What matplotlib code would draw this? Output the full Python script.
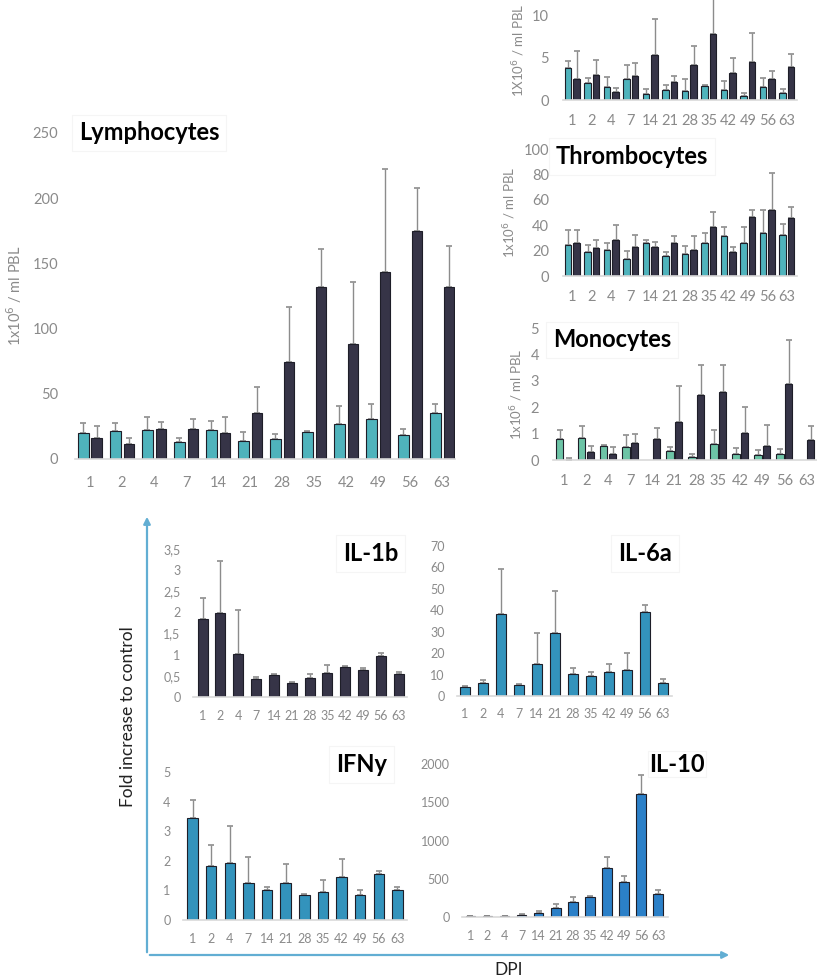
import matplotlib
matplotlib.use('Agg')
import matplotlib.pyplot as plt
import numpy as np
from matplotlib.patches import FancyArrowPatch

plt.rcParams['font.family'] = ['Lato', 'DejaVu Sans']

days = ['1', '2', '4', '7', '14', '21', '28', '35', '42', '49', '56', '63']

# blood cell counts, control (teal) vs infected (dark), mean and SD
lymph_ctrl = [20, 21.8, 22, 13, 22, 14, 15, 21, 27, 30.5, 18.7, 35.6]
lymph_ctrl_sd = [7.4, 5.6, 10, 3, 7.5, 6.5, 4, 0.5, 14, 11.5, 4.6, 6.4]
lymph_inf = [16, 11.5, 23.3, 23.3, 20, 35.4, 74.4, 132, 88.5, 143.3, 174.6, 132]
lymph_inf_sd = [9.4, 4.5, 4.7, 7.7, 12.3, 19.6, 42.3, 28.8, 46.9, 79.2, 33.4, 31]

top_ctrl = [3.8, 2.0, 1.5, 2.5, 0.7, 1.2, 1.04, 1.65, 1.2, 0.43, 1.6, 0.78]
top_ctrl_sd = [0.85, 0.6, 1.2, 1.7, 0.56, 0.6, 1.46, 0.15, 1.0, 0.44, 1.0, 0.52]
top_inf = [2.48, 2.96, 0.96, 2.9, 5.3, 2.1, 4.17, 7.83, 3.17, 4.5, 2.48, 3.87]
top_inf_sd = [3.3, 1.82, 0.44, 1.53, 4.27, 0.8, 2.26, 4.67, 1.83, 3.46, 1.0, 1.63]

thromb_ctrl = [24.2, 18.7, 20.3, 13.7, 26, 16, 17.4, 26.3, 31.8, 26, 33.7, 32.1]
thromb_ctrl_sd = [12.4, 5.5, 6.0, 5.8, 2.2, 2.7, 6.0, 7.9, 6.6, 12.4, 18.1, 8.7]
thromb_inf = [25.8, 22.1, 28.7, 22.6, 23.2, 25.8, 20.3, 38.2, 19, 46.6, 51.6, 46]
thromb_inf_sd = [10.8, 6.3, 11.8, 9.8, 3.4, 6.0, 11.0, 12.3, 4.2, 5.2, 29.7, 8.7]

mono_ctrl = [0.78, 0.85, 0.54, 0.49, np.nan, 0.34, 0.11, 0.6, 0.24, 0.19, 0.22, np.nan]
mono_ctrl_sd = [0.36, 0.44, 0.02, 0.47, np.nan, 0.14, 0.12, 0.54, 0.22, 0.19, 0.18, np.nan]
mono_inf = [0, 0.32, 0.22, 0.66, 0.8, 1.44, 2.46, 2.56, 1.01, 0.54, 2.87, 0.76]
mono_inf_sd = [0.08, 0.2, 0.26, 0.31, 0.4, 1.38, 1.14, 1.04, 0.99, 0.79, 1.69, 0.51]

# cytokine expression, fold increase to control
il1b = [1.84, 1.98, 1.02, 0.43, 0.52, 0.33, 0.44, 0.57, 0.7, 0.64, 0.97, 0.54]
il1b_sd = [0.51, 1.23, 1.03, 0.05, 0.03, 0.03, 0.1, 0.18, 0.04, 0.04, 0.07, 0.04]
il6a = [4.2, 6.2, 38.1, 5.3, 15.1, 29.2, 10.1, 9.2, 11.2, 12.0, 39.2, 6.1]
il6a_sd = [0.5, 1.4, 21.2, 0.1, 14.1, 19.9, 3.0, 2.0, 3.9, 7.9, 3.1, 2.0]
ifny = [3.46, 1.84, 1.93, 1.24, 1.03, 1.24, 0.83, 0.94, 1.45, 0.83, 1.54, 1.03]
ifny_sd = [0.6, 0.71, 1.23, 0.89, 0.09, 0.66, 0.05, 0.41, 0.61, 0.19, 0.1, 0.08]
il10 = [9, 9, 13, 22, 52, 122, 201, 258, 638, 454, 1611, 301]
il10_sd = [0, 0, 0, 13, 27, 53, 61, 22, 148, 87, 249, 48]

W, H = 817, 980
TEAL = '#4fb3bc'
DARK = '#363447'
GREEN = '#6dc4a6'
GREY = '#8a8a8a'

fig = plt.figure(figsize=(W / 100, H / 100), dpi=100)


def axes_px(x0, y0, x1, y1):
    # y0 = top pixel, y1 = pixel of the zero line
    ax = fig.add_axes([x0 / W, 1 - y1 / H, (x1 - x0) / W, (y1 - y0) / H])
    for s in ['top', 'right', 'left']:
        ax.spines[s].set_visible(False)
    ax.spines['bottom'].set_color('#d9d9d9')
    ax.spines['bottom'].set_linewidth(1.2)
    ax.tick_params(length=0, colors=GREY)
    return ax


def bars(ax, x, vals, sd, color, width):
    vals = np.array(vals, dtype=float)
    sd = np.array(sd, dtype=float)
    ok = np.isfinite(vals)
    ax.bar(x[ok], vals[ok], width, color=color, edgecolor='#1e1e28', linewidth=0.8, zorder=2)
    ax.errorbar(x[ok], vals[ok], yerr=[np.zeros(ok.sum()), sd[ok]], fmt='none',
                ecolor='#8c8c8c', elinewidth=1, capsize=2.2, capthick=1.2, zorder=1.5)


def title(ax, text, x, y, ha='left', pad=5):
    ax.text(x, y, text, transform=ax.transAxes, ha=ha, va='center', fontsize=17,
            fontweight='bold', color='black', zorder=5, clip_on=False,
            bbox=dict(facecolor='white', edgecolor='#f5f5f5', linewidth=0.8, pad=pad))


x = np.arange(12)

# Lymphocytes
ax = axes_px(75, 133, 455, 459)
bars(ax, x - 0.21, lymph_ctrl, lymph_ctrl_sd, TEAL, 0.33)
bars(ax, x + 0.21, lymph_inf, lymph_inf_sd, DARK, 0.33)
ax.set_xlim(-0.47, 11.4)
ax.set_ylim(0, 250)
ax.set_yticks([0, 50, 100, 150, 200, 250])
ax.set_xticks(x)
ax.set_xticklabels(days)
ax.tick_params(axis='both', labelsize=10.5, pad=12)
ax.set_ylabel(r'1x10$^{6}$ / ml PBL', fontsize=10.5, color=GREY, labelpad=6)
title(ax, 'Lymphocytes', 0.01, 1.0)

# upper right panel (cut at the top)
ax = axes_px(563, 0, 797, 100)
bars(ax, x - 0.22, top_ctrl, top_ctrl_sd, TEAL, 0.34)
bars(ax, x + 0.22, top_inf, top_inf_sd, DARK, 0.34)
ax.set_xlim(-0.48, 11.52)
ax.set_ylim(0, 11.86)
ax.set_yticks([0, 5, 10])
ax.set_xticks(x)
ax.set_xticklabels(days)
ax.tick_params(axis='both', labelsize=10.5, pad=10)
ax.set_ylabel(r'1X10$^{6}$ / ml PBL', fontsize=9.5, color=GREY, labelpad=4)

# Thrombocytes
ax = axes_px(563, 149, 797, 276)
bars(ax, x - 0.22, thromb_ctrl, thromb_ctrl_sd, TEAL, 0.34)
bars(ax, x + 0.22, thromb_inf, thromb_inf_sd, DARK, 0.34)
ax.set_xlim(-0.48, 11.52)
ax.set_ylim(0, 100)
ax.set_yticks([0, 20, 40, 60, 80, 100])
ax.set_xticks(x)
ax.set_xticklabels(days)
ax.tick_params(axis='both', labelsize=10.5, pad=10)
ax.set_ylabel(r'1x10$^{6}$ / ml PBL', fontsize=9.5, color=GREY, labelpad=4)
title(ax, 'Thrombocytes', -0.03, 0.94)

# Monocytes
ax = axes_px(553, 328, 817, 460)
bars(ax, x - 0.2, mono_ctrl, mono_ctrl_sd, GREEN, 0.33)
bars(ax, x + 0.2, mono_inf, mono_inf_sd, DARK, 0.33)
ax.set_xlim(-0.51, 11.48)
ax.set_ylim(0, 5)
ax.set_yticks([0, 1, 2, 3, 4, 5])
ax.set_xticks(x)
ax.set_xticklabels(days)
ax.tick_params(axis='both', labelsize=10.5, pad=10)
ax.set_ylabel(r'1x10$^{6}$ / ml PBL', fontsize=9.5, color=GREY, labelpad=4)
title(ax, 'Monocytes', 0.0, 0.91)


def cyto(box, vals, sd, color, ymax, yticks, ylabels, xlim, name, tx, ty, pad=5):
    ax = axes_px(*box)
    bars(ax, x, vals, sd, color, 0.56)
    ax.set_xlim(*xlim)
    ax.set_ylim(0, ymax)
    ax.set_yticks(yticks)
    ax.set_yticklabels(ylabels)
    ax.set_xticks(x)
    ax.set_xticklabels(days)
    ax.tick_params(axis='both', labelsize=9, pad=9)
    title(ax, name, tx, ty, ha='right', pad=pad)
    return ax


cyto((193, 549, 407, 697), il1b, il1b_sd, DARK, 3.5,
     [0, 0.5, 1, 1.5, 2, 2.5, 3, 3.5], ['0', '0,5', '1', '1,5', '2', '2,5', '3', '3,5'],
     (-0.54, 11.46), 'IL-1b', 0.96, 0.97)
cyto((457, 546, 672, 696), il6a, il6a_sd, '#3393bc', 70,
     range(0, 71, 10), [str(v) for v in range(0, 71, 10)],
     (-0.42, 11.5), 'IL-6a', 1.0, 0.95)
cyto((183, 772, 407, 920), ifny, ifny_sd, '#3393bc', 5,
     range(0, 6), [str(v) for v in range(0, 6)],
     (-0.52, 11.52), 'IFNy', 0.91, 1.05)
cyto((462, 764, 668, 917), il10, il10_sd, '#2b80c8', 2000,
     range(0, 2001, 500), [str(v) for v in range(0, 2001, 500)],
     (-0.49, 11.57), 'IL-10', 1.18, 1.0, pad=1)

# axis arrows for the cytokine block
def fpt(px, py):
    return (px / W, 1 - py / H)

for end in [fpt(147, 514), fpt(732, 955)]:
    fig.add_artist(FancyArrowPatch(fpt(147, 955), end, transform=fig.transFigure,
                                   arrowstyle='-|>', mutation_scale=10,
                                   color='#62aed3', linewidth=1.6))

fig.text(128 / W, 1 - 717 / H, 'Fold increase to control', rotation=90,
         ha='center', va='center', fontsize=12.5, color='#222222')
fig.text(509 / W, 1 - 970 / H, 'DPI', ha='center', va='center', fontsize=12.5,
         color='#222222')

fig.savefig('out.png', dpi=100)
